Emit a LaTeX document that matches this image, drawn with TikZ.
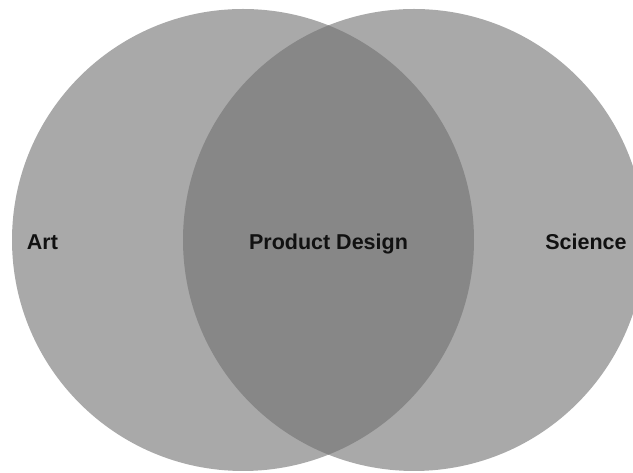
\documentclass[tikz,border=0pt]{standalone}
\usepackage{fontspec}
\setmainfont{Liberation Sans}
\definecolor{circgray}{HTML}{A9A9A9}
\definecolor{lensgray}{HTML}{878787}
\definecolor{txt}{HTML}{111111}
\tikzset{
  setcircle/.style={fill=circgray, draw=none},
  lenspart/.style={fill=lensgray, draw=none},
  label/.style={font=\fontsize{21.5}{24}\selectfont\bfseries, text=txt, inner sep=0pt, anchor=base}
}
\begin{document}
\begin{tikzpicture}[x=1pt,y=1pt]
\useasboundingbox (0,0) rectangle (633,473);
\clip (0,0) rectangle (633,473);
\coordinate (cl) at (243,233);
\coordinate (cr) at (414,233);
\fill[setcircle] (cl) circle (231);
\fill[setcircle] (cr) circle (231);
\begin{scope}
  \clip (cl) circle (231);
  \fill[lenspart] (cr) circle (231);
\end{scope}
\node[label] (art) at (42.5,223) {Art};
\node[label] (pd) at (328.5,223) {Product Design};
\node[label] (sci) at (586,223) {Science};
\end{tikzpicture}
\end{document}
